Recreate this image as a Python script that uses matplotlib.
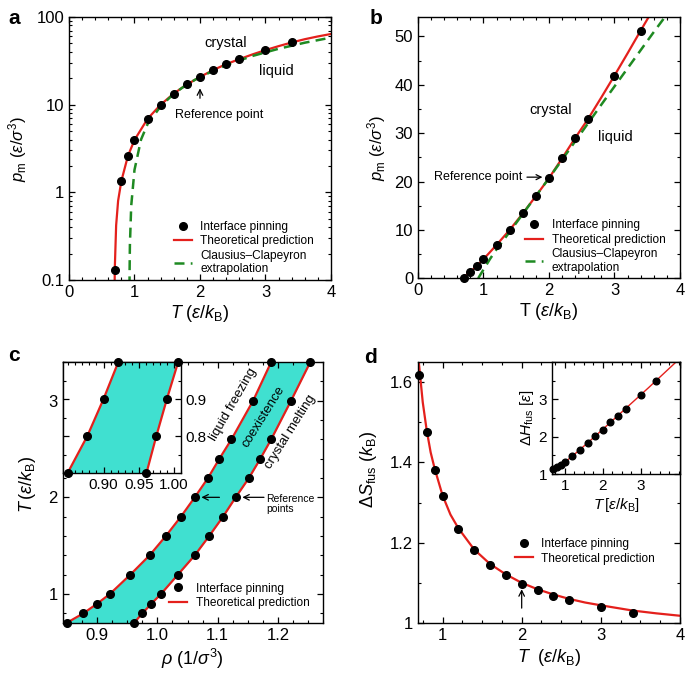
import matplotlib
matplotlib.use('Agg')
import matplotlib.pyplot as plt
from matplotlib.ticker import MultipleLocator, LogLocator, NullFormatter

plt.rcParams['font.family'] = ['Liberation Sans', 'DejaVu Sans']
plt.rcParams['mathtext.fontset'] = 'custom'
plt.rcParams['mathtext.rm'] = 'Liberation Sans'
plt.rcParams['mathtext.it'] = 'Liberation Sans:italic'
plt.rcParams['mathtext.bf'] = 'Liberation Sans:bold'
plt.rcParams['xtick.direction'] = 'in'
plt.rcParams['ytick.direction'] = 'in'
plt.rcParams['xtick.top'] = True
plt.rcParams['ytick.right'] = True
plt.rcParams['axes.linewidth'] = 1.0

RED = '#e4201c'
GREEN = '#1f8a22'
CYAN = '#40e0d0'

# interface pinning temperatures (shared by all panels)
T_pts = [0.7, 0.8, 0.9, 1.0, 1.2, 1.4, 1.6, 1.8, 2.0, 2.2, 2.4, 2.6, 3.0, 3.4]

# a, b: melting pressure
p_pts = [0.13, 1.35, 2.6, 3.95, 6.9, 10.0, 13.4, 17.0, 20.7, 24.8, 29.0, 33.0, 41.9, 51.2]
T_th = [0.69, 0.695, 0.70, 0.72, 0.75, 0.8, 0.9, 1.0, 1.2, 1.4, 1.6, 1.8, 2.0,
        2.2, 2.4, 2.6, 2.8, 3.0, 3.2, 3.4, 3.6, 3.8, 4.0]
p_th = [0.01, 0.07, 0.14, 0.42, 0.8, 1.35, 2.6, 3.95, 6.9, 10.0, 13.4, 17.0, 20.7,
        24.8, 29.0, 33.0, 37.4, 41.9, 46.5, 51.2, 55.8, 60.0, 64.0]
T_cc = [0.92, 0.925, 0.93, 0.95, 1.0, 1.1, 1.2, 1.4, 1.6, 1.8, 2.0, 2.4, 2.8, 3.2, 3.6, 4.0]
p_cc = [0.01, 0.12, 0.25, 0.7, 1.8, 4.0, 6.0, 9.6, 13.3, 17.0, 20.7, 28.3, 35.9, 43.4, 50.9, 58.2]

# c: coexistence densities
rho_liq = [0.849, 0.877, 0.900, 0.921, 0.955, 0.987, 1.014, 1.039, 1.062, 1.084,
           1.103, 1.123, 1.159, 1.189]
rho_sol = [0.961, 0.975, 0.990, 1.006, 1.034, 1.062, 1.086, 1.109, 1.130, 1.152,
           1.171, 1.189, 1.222, 1.254]

# d: entropy and enthalpy of fusion
S_pts = [1.617, 1.475, 1.380, 1.317, 1.235, 1.181, 1.145, 1.119, 1.097, 1.083,
         1.068, 1.056, 1.039, 1.026]
T_S_th = [0.7, 0.75, 0.8, 0.85, 0.9, 1.0, 1.1, 1.2, 1.4, 1.6, 1.8, 2.0, 2.2, 2.4,
          2.6, 2.8, 3.0, 3.4, 3.7, 4.0]
S_th = [1.65, 1.55, 1.48, 1.425, 1.385, 1.318, 1.27, 1.236, 1.183, 1.147, 1.121,
        1.100, 1.084, 1.071, 1.060, 1.051, 1.044, 1.031, 1.024, 1.018]
H_pts = [1.13, 1.18, 1.24, 1.32, 1.48, 1.65, 1.83, 2.01, 2.19, 2.38, 2.56, 2.75, 3.12, 3.49]
T_H_th = [0.7, 0.8, 0.9, 1.0, 1.2, 1.6, 2.0, 2.4, 2.8, 3.2, 3.6, 4.0]
H_th = [1.12, 1.18, 1.245, 1.318, 1.483, 1.835, 2.20, 2.57, 2.94, 3.31, 3.69, 4.07]

TICK_FS = 12
LAB_FS = 12
LEG_FS = 8.6
LW = 1.6
MS = 5.5

fig = plt.figure(figsize=(6.85, 6.74), dpi=100)


def dots(ax, x, y, label='Interface pinning', ms=MS):
    return ax.plot(x, y, 'o', color='black', ms=ms, zorder=5, clip_on=False,
                   label=label)


def style(ax, fs=TICK_FS):
    ax.tick_params(which='major', length=4.5, width=0.9, labelsize=fs)
    ax.tick_params(which='minor', length=2.5, width=0.8)


def legend(ax, x, y, handles=None, labels=None):
    h, l = ax.get_legend_handles_labels()
    if handles is not None:
        h, l = handles, labels
    ax.legend(h, l, loc='upper left', bbox_to_anchor=(x, y), frameon=False,
              fontsize=LEG_FS, borderpad=0, borderaxespad=0, handlelength=1.5,
              handletextpad=0.7, labelspacing=0.2, numpoints=1)


# ---- panel a ----
ax = fig.add_axes([0.1007, 0.5846, 0.3825, 0.3902])
dots(ax, T_pts, p_pts)
ax.plot(T_th, p_th, '-', color=RED, lw=LW, label='Theoretical prediction')
ax.plot(T_cc, p_cc, color=GREEN, lw=1.8, ls=(0, (4, 2.5)),
        label='Clausius\u2013Clapeyron\nextrapolation')
ax.set_yscale('log')
ax.set_xlim(0, 4)
ax.set_ylim(0.1, 100)
ax.set_yticks([0.1, 1, 10, 100], ['0.1', '1', '10', '100'])
ax.yaxis.set_minor_locator(LogLocator(base=10, subs=range(2, 10)))
ax.yaxis.set_minor_formatter(NullFormatter())
ax.xaxis.set_major_locator(MultipleLocator(1))
ax.xaxis.set_minor_locator(MultipleLocator(0.2))
style(ax)
ax.set_xlabel(r'$T$ ($\varepsilon/k_{\rm B}$)', fontsize=LAB_FS + 1, labelpad=2)
ax.set_ylabel(r'$p_{\rm m}$ ($\varepsilon/\sigma^3$)', fontsize=LAB_FS, labelpad=5)
ax.text(2.39, 50, 'crystal', fontsize=10.5, ha='center', va='center')
ax.text(3.16, 24, 'liquid', fontsize=10.5, ha='center', va='center')
ax.text(2.3, 7.6, 'Reference point', fontsize=9, ha='center', va='center')
ax.annotate('', xy=(2.0, 16.5), xytext=(2.0, 11.0),
            arrowprops=dict(arrowstyle='->', lw=0.9, color='black'))
legend(ax, 0.40, 0.225)
fig.text(0.012, 0.972, 'a', fontsize=15, fontweight='bold', va='center')

# ---- panel b ----
ax = fig.add_axes([0.6102, 0.5871, 0.3825, 0.3877])
dots(ax, T_pts, p_pts)
ax.plot(T_th, p_th, '-', color=RED, lw=LW, label='Theoretical prediction')
ax.plot(T_cc, p_cc, color=GREEN, lw=1.8, ls=(0, (4, 2.5)),
        label='Clausius\u2013Clapeyron\nextrapolation')
ax.set_xlim(0, 4)
ax.set_ylim(0, 54)
ax.xaxis.set_major_locator(MultipleLocator(1))
ax.xaxis.set_minor_locator(MultipleLocator(0.2))
ax.yaxis.set_major_locator(MultipleLocator(10))
ax.yaxis.set_minor_locator(MultipleLocator(5))
style(ax)
ax.set_xlabel(r'T ($\varepsilon/k_{\rm B}$)', fontsize=LAB_FS + 1, labelpad=2)
ax.set_ylabel(r'$p_{\rm m}$ ($\varepsilon/\sigma^3$)', fontsize=LAB_FS, labelpad=5)
ax.text(2.02, 34.8, 'crystal', fontsize=10.5, ha='center', va='center')
ax.text(3.01, 29.1, 'liquid', fontsize=10.5, ha='center', va='center')
ax.annotate('Reference point', xy=(1.9, 20.9), xytext=(1.6, 20.9), fontsize=9,
            ha='right', va='center',
            arrowprops=dict(arrowstyle='->', lw=0.9, color='black', shrinkA=1, shrinkB=0))
legend(ax, 0.41, 0.225)
fig.text(0.540, 0.972, 'b', fontsize=15, fontweight='bold', va='center')

# ---- panel c ----
ax = fig.add_axes([0.0915, 0.0757, 0.3800, 0.3872])
ax.fill_betweenx(T_pts, rho_liq, rho_sol, color=CYAN, lw=0)
red_c, = ax.plot(rho_liq, T_pts, '-', color=RED, lw=LW)
ax.plot(rho_sol, T_pts, '-', color=RED, lw=LW)
dot_c, = dots(ax, rho_liq, T_pts)
dots(ax, rho_sol, T_pts, label=None)
ax.set_xlim(0.8426, 1.275)
ax.set_ylim(0.7, 3.4)
ax.xaxis.set_major_locator(MultipleLocator(0.1))
ax.xaxis.set_minor_locator(MultipleLocator(0.025))
ax.yaxis.set_major_locator(MultipleLocator(1))
ax.yaxis.set_minor_locator(MultipleLocator(0.2))
style(ax)
ax.set_xlabel(r'$\rho$ ($1/\sigma^3$)', fontsize=LAB_FS + 1, labelpad=3)
ax.set_ylabel(r'$T\,(\varepsilon/k_{\rm B})$', fontsize=LAB_FS + 1, labelpad=4)
ax.yaxis.set_label_coords(-0.095, 0.53)
ax.text(1.126, 2.96, 'liquid freezing', fontsize=9.5, rotation=60,
        ha='center', va='center')
ax.text(1.177, 2.83, 'coexistence', fontsize=9.5, rotation=58,
        ha='center', va='center')
ax.text(1.221, 2.68, 'crystal melting', fontsize=9.5, rotation=58,
        ha='center', va='center')
ax.text(1.180, 1.93, 'Reference\npoints', fontsize=7.5, ha='left', va='center',
        linespacing=1.1)
ax.annotate('', xy=(1.073, 2.0), xytext=(1.103, 2.0),
            arrowprops=dict(arrowstyle='->', lw=0.9, color='black', shrinkA=0, shrinkB=0))
ax.annotate('', xy=(1.141, 2.0), xytext=(1.177, 2.0),
            arrowprops=dict(arrowstyle='->', lw=0.9, color='black', shrinkA=0, shrinkB=0))
legend(ax, 0.41, 0.155, [dot_c, red_c], ['Interface pinning', 'Theoretical prediction'])
fig.text(0.012, 0.473, 'c', fontsize=15, fontweight='bold', va='center')

# inset c (zoom on the low-temperature end)
ins = fig.add_axes([0.0915, 0.2982, 0.1727, 0.1647])
ins.fill_betweenx(T_pts, rho_liq, rho_sol, color=CYAN, lw=0)
ins.plot(rho_liq, T_pts, '-', color=RED, lw=LW)
ins.plot(rho_sol, T_pts, '-', color=RED, lw=LW)
ins.plot(rho_liq[:4], T_pts[:4], 'o', color='black', ms=MS, zorder=5, clip_on=False)
ins.plot(rho_sol[:4], T_pts[:4], 'o', color='black', ms=MS, zorder=5, clip_on=False)
ins.set_xlim(0.842, 1.010)
ins.set_ylim(0.7, 1.0)
ins.set_xticks([0.90, 0.95, 1.00], ['0.90', '0.95', '1.00'])
ins.xaxis.set_minor_locator(MultipleLocator(0.01))
ins.set_yticks([0.8, 0.9], ['0.8', '0.9'])
ins.yaxis.set_minor_locator(MultipleLocator(0.05))
ins.tick_params(axis='y', labelleft=False, labelright=True)
style(ins, fs=11)

# ---- panel d ----
ax = fig.add_axes([0.6102, 0.0757, 0.3825, 0.3872])
red_d, = ax.plot(T_S_th, S_th, '-', color=RED, lw=LW)
dot_d, = dots(ax, T_pts, S_pts)
ax.set_xlim(0.69, 4)
ax.set_ylim(1.0, 1.65)
ax.set_yticks([1.0, 1.2, 1.4, 1.6], ['1', '1.2', '1.4', '1.6'])
ax.yaxis.set_minor_locator(MultipleLocator(0.1))
ax.xaxis.set_major_locator(MultipleLocator(1))
ax.xaxis.set_minor_locator(MultipleLocator(0.25))
style(ax)
ax.set_xlabel(r'$T$  ($\varepsilon/k_{\rm B}$)', fontsize=LAB_FS + 1, labelpad=3)
ax.set_ylabel(r'$\Delta S_{\rm fus}$ ($k_{\rm B}$)', fontsize=LAB_FS + 1, labelpad=4)
ax.yaxis.set_label_coords(-0.15, 0.59)
ax.annotate('', xy=(2.0, 1.084), xytext=(2.0, 1.037),
            arrowprops=dict(arrowstyle='->', lw=0.9, color='black', shrinkA=0, shrinkB=0))
legend(ax, 0.37, 0.325, [dot_d, red_d], ['Interface pinning', 'Theoretical prediction'])
fig.text(0.532, 0.469, 'd', fontsize=15, fontweight='bold', va='center')

# inset d
ins = fig.add_axes([0.8058, 0.2967, 0.1869, 0.1662])
ins.plot(T_H_th, H_th, '-', color=RED, lw=1.0)
ins.plot(T_pts, H_pts, 'o', color='black', ms=4.8, zorder=5, clip_on=False)
ins.set_xlim(0.66, 4.03)
ins.set_ylim(1.0, 4.0)
ins.set_xticks([1, 2, 3], ['1', '2', '3'])
ins.xaxis.set_minor_locator(MultipleLocator(0.25))
ins.set_yticks([1, 2, 3], ['1', '2', '3'])
ins.yaxis.set_minor_locator(MultipleLocator(0.5))
style(ins, fs=11)
ins.set_xlabel(r'$T\,[\varepsilon/k_{\rm B}]$', fontsize=11, labelpad=2)
ins.set_ylabel(r'$\Delta H_{\rm fus}$ [$\varepsilon$]', fontsize=11, labelpad=2)

fig.savefig('out.png', dpi=100)
